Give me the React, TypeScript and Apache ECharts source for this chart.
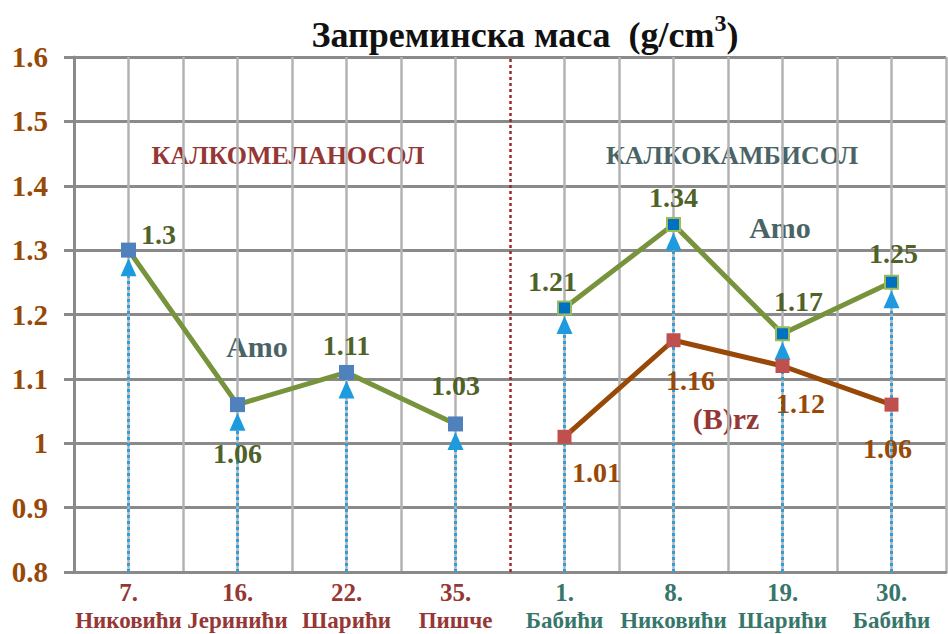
import React, { useEffect, useRef } from "react";
import * as echarts from "echarts";

const sampleNumbers = ["7.", "16.", "22.", "35.", "1.", "8.", "19.", "30."];
const places = ["Никовићи", "Јеринићи", "Шарићи", "Пишче", "Бабићи", "Никовићи", "Шарићи", "Бабићи"];
const amoLeft = [1.3, 1.06, 1.11, 1.03, null, null, null, null];
const amoRight = [null, null, null, null, 1.21, 1.34, 1.17, 1.25];
const brz = [null, null, null, null, 1.01, 1.16, 1.12, 1.06];
const yTicks = { min: 0.8, max: 1.6, interval: 0.1 };

const FONT = "'Liberation Serif', 'DejaVu Serif', serif";

// label placement styles (per point)
const amoLeftLabelOffsets: any[] = [
  { position: "right", offset: [0, -16] },
  { position: "bottom", offset: [0, 22] },
  { position: "top", offset: [0, 0] },
  { position: "top", offset: [0, -12] },
];
const amoRightLabelOffsets: any[] = [
  { position: "top", offset: [-12, 0] },
  { position: "top", offset: [0, 0] },
  { position: "top", offset: [16, -6] },
  { position: "top", offset: [2, -2] },
];
const brzLabelOffsets: any[] = [
  { position: "bottom", offset: [32, 10] },
  { position: "bottom", offset: [17, 14] },
  { position: "bottom", offset: [18, 11] },
  { position: "bottom", offset: [-4, 18] },
];

function buildData(values: (number | null)[], labels: any[]) {
  let k = 0;
  return values.map((v) => {
    if (v === null) return "-";
    const l = labels[k++];
    return { value: v, label: { position: l.position, offset: l.offset } };
  });
}

export default function App() {
  const ref = useRef<HTMLDivElement>(null);
  useEffect(() => {
    const chart = echarts.init(ref.current!, null, { renderer: "svg" });
    const categories = sampleNumbers.map((n, i) => `${n}|${places[i]}`);
    const arrowValues = amoLeft.map((v, i) => (v !== null ? v : amoRight[i]));
    const half = categories.length / 2;
    const splitColors: string[] = [];
    for (let i = 0; i <= categories.length * 2; i++) {
      splitColors.push(i === categories.length ? "rgba(0,0,0,0)" : "#b3b3b3");
    }

    const option: any = {
      animation: false,
      backgroundColor: "#ffffff",
      title: {
        text: "{t|Запреминска маса  (g/cm}{s|3}{t|)}",
        left: 520,
        textAlign: "center",
        top: 6,
        textStyle: {
          rich: {
            t: { fontFamily: FONT, fontWeight: "bold", fontSize: 36, color: "#111", verticalAlign: "bottom", lineHeight: 42 },
            s: { fontFamily: FONT, fontWeight: "bold", fontSize: 24, color: "#111", verticalAlign: "top", lineHeight: 42, padding: [0, 0, 14, 0] },
          },
        },
      },
      grid: { left: 74, right: 2, top: 57, bottom: 62, containLabel: false, outerBoundsMode: "none" },
      xAxis: [
        {
          type: "category",
          data: categories,
          boundaryGap: true,
          axisLine: { show: true, lineStyle: { color: "#8a8a8a", width: 3 } },
          axisTick: { show: false },
          splitLine: { show: false },
          axisLabel: {
            interval: 0,
            margin: 6,
            formatter: (val: string, idx: number) => {
              const [n, p] = val.split("|");
              const g = idx < half ? "L" : "R";
              return `{n${g}|${n}}\n{p${g}|${p}}`;
            },
            rich: {
              nL: { fontFamily: FONT, fontWeight: "bold", fontSize: 25, color: "#953735", lineHeight: 28 },
              pL: { fontFamily: FONT, fontWeight: "bold", fontSize: 23, color: "#953735", lineHeight: 28 },
              nR: { fontFamily: FONT, fontWeight: "bold", fontSize: 25, color: "#37766A", lineHeight: 28 },
              pR: { fontFamily: FONT, fontWeight: "bold", fontSize: 23, color: "#37766A", lineHeight: 28 },
            },
          },
        },
        {
          type: "value",
          min: 0,
          max: categories.length,
          interval: 0.5,
          position: "bottom",
          axisLine: { show: false },
          axisTick: { show: false },
          axisLabel: { show: false },
          splitLine: { show: true, lineStyle: { color: splitColors, width: 2.5 } },
        },
      ],
      yAxis: {
        type: "value",
        min: yTicks.min,
        max: yTicks.max,
        interval: yTicks.interval,
        axisLine: { show: true, lineStyle: { color: "#8a8a8a", width: 3 } },
        axisTick: { show: true, length: 10, inside: false, lineStyle: { color: "#8a8a8a", width: 3 } },
        splitLine: { show: true, lineStyle: { color: "#8a8a8a", width: 3 } },
        axisLabel: {
          margin: 26,
          fontFamily: FONT,
          fontWeight: "bold",
          fontSize: 29,
          color: "#984807",
          formatter: (v: number) => String(Math.round(v * 10) / 10),
        },
      },
      series: [
        {
          type: "custom",
          name: "arrows",
          xAxisIndex: 0,
          yAxisIndex: 0,
          z: 1,
          data: arrowValues.map((v, i) => [i, v]),
          renderItem: (params: any, api: any) => {
            const i = api.value(0);
            const v = api.value(1);
            const top = api.coord([i, v]);
            const bottom = api.coord([i, yTicks.min]);
            const tipY = top[1] + 8;
            const baseY = tipY + 18;
            const color = "#1E9BDF";
            return {
              type: "group",
              children: [
                {
                  type: "line",
                  shape: { x1: top[0], y1: bottom[1], x2: top[0], y2: baseY },
                  style: { stroke: "#2E9EDC", lineWidth: 3, lineDash: [3, 3] },
                },
                {
                  type: "polygon",
                  shape: { points: [[top[0], tipY], [top[0] - 8, baseY], [top[0] + 8, baseY]] },
                  style: { fill: color },
                },
              ],
            };
          },
        },
        {
          type: "line",
          name: "sep",
          xAxisIndex: 1,
          data: [],
          markLine: {
            silent: true,
            symbol: ["none", "none"],
            label: { show: false },
            lineStyle: { color: "#A0282A", type: [3, 3], width: 2.5 },
            data: [{ xAxis: half }],
          },
        },
        {
          type: "line",
          name: "Amo",
          data: buildData(amoLeft, amoLeftLabelOffsets),
          z: 3,
          symbol: "rect",
          symbolSize: 15,
          itemStyle: { color: "#4F81BD" },
          lineStyle: { color: "#77933C", width: 5 },
          label: {
            show: true,
            fontFamily: FONT,
            fontWeight: "bold",
            fontSize: 28,
            color: "#4F6228",
          },
        },
        {
          type: "line",
          name: "Amo2",
          data: buildData(amoRight, amoRightLabelOffsets),
          z: 3,
          symbol: "rect",
          symbolSize: 13,
          itemStyle: { color: "#0070C0", borderColor: "#9BBB59", borderWidth: 2 },
          lineStyle: { color: "#77933C", width: 5 },
          label: {
            show: true,
            fontFamily: FONT,
            fontWeight: "bold",
            fontSize: 28,
            color: "#4F6228",
          },
        },
        {
          type: "line",
          name: "(B)rz",
          data: buildData(brz, brzLabelOffsets),
          z: 3,
          symbol: "rect",
          symbolSize: 14,
          itemStyle: { color: "#C0504D" },
          lineStyle: { color: "#984807", width: 5 },
          label: {
            show: true,
            fontFamily: FONT,
            fontWeight: "bold",
            fontSize: 28,
            color: "#984807",
          },
        },
      ],
      graphic: [
        { type: "text", x: 288, y: 155, style: { text: "КАЛКОМЕЛАНОСОЛ", fill: "#953735", font: `bold 26px ${FONT}`, align: "center", verticalAlign: "middle" } },
        { type: "text", x: 732, y: 155, style: { text: "КАЛКОКАМБИСОЛ", fill: "#4A6466", font: `bold 26px ${FONT}`, align: "center", verticalAlign: "middle" } },
        { type: "text", x: 257, y: 346, style: { text: "Amo", fill: "#4A6466", font: `bold 30px ${FONT}`, align: "center", verticalAlign: "middle" } },
        { type: "text", x: 780, y: 227, style: { text: "Amo", fill: "#4A6466", font: `bold 30px ${FONT}`, align: "center", verticalAlign: "middle" } },
        { type: "text", x: 726, y: 418, style: { text: "(B)rz", fill: "#953735", font: `bold 30px ${FONT}`, align: "center", verticalAlign: "middle" } },
      ],
    };
    chart.setOption(option);
    return () => chart.dispose();
  }, []);
  return <div ref={ref} style={{ position: "fixed", left: 0, top: 0, width: 948, height: 634 }} />;
}
